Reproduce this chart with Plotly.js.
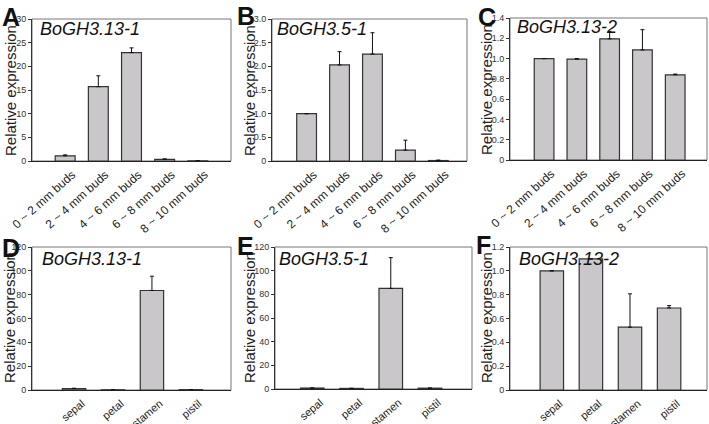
<!DOCTYPE html>
<html>
<head>
<meta charset="utf-8">
<script src="https://cdn.plot.ly/plotly-3.0.1.min.js"></script>
<style>html,body{margin:0;padding:0;background:#fff;}#chart{width:709px;height:424px;}</style>
</head>
<body>
<div id="chart"></div>
<script>
// ---- data ----
const budStages = ['0 ~ 2 mm buds', '2 ~ 4 mm buds', '4 ~ 6 mm buds', '6 ~ 8 mm buds', '8 ~ 10 mm buds'];
const organs = ['sepal', 'petal', 'stamen', 'pistil'];

const budsGH3_13_1 = [1.1, 15.7, 22.9, 0.35, 0.03];
const budsGH3_13_1Err = [0.2, 2.3, 1.0, 0.1, 0.02];
const budsGH3_5_1 = [1.0, 2.03, 2.26, 0.23, 0.01];
const budsGH3_5_1Err = [0.0, 0.28, 0.45, 0.21, 0.01];
const budsGH3_13_2 = [1.0, 0.995, 1.195, 1.085, 0.84];
const budsGH3_13_2Err = [0.0, 0.005, 0.07, 0.2, 0.007];

const organGH3_13_1 = [1.2, 0.2, 83.5, 0.3];
const organGH3_13_1Err = [0.3, 0.1, 12, 0.1];
const organGH3_5_1 = [0.8, 0.5, 85, 0.7];
const organGH3_5_1Err = [0.1, 0.1, 26, 0.1];
const organGH3_13_2 = [1.0, 1.1, 0.527, 0.688];
const organGH3_13_2Err = [0.0, 0.0, 0.28, 0.02];

const panelLetters = ['A', 'B', 'C', 'D', 'E', 'F'];
const geneNames = ['BoGH3.13-1', 'BoGH3.5-1', 'BoGH3.13-2', 'BoGH3.13-1', 'BoGH3.5-1', 'BoGH3.13-2'];
const yTitle = 'Relative expression';

const ticksA = [0, 5, 10, 15, 20, 25, 30];
const ticksB = [0, 0.5, 1.0, 1.5, 2.0, 2.5, 3.0];
const ticksBText = ['0', '0.5', '1.0', '1.5', '2.0', '2.5', '3.0'];
const ticksC = [0, 0.2, 0.4, 0.6, 0.8, 1.0, 1.2, 1.4];
const ticksCText = ['0', '0.2', '0.4', '0.6', '0.8', '1.0', '1.2', '1.4'];
const ticksDE = [0, 20, 40, 60, 80, 100, 120];
const ticksF = [0, 0.2, 0.4, 0.6, 0.8, 1.0, 1.2];
const ticksFText = ['0', '0.2', '0.4', '0.6', '0.8', '1.0', '1.2'];

// ---- layout geometry ----
const W = 709, H = 424;
const FONT = 'Liberation Sans, Arial, sans-serif';
const px = v => v / W;
const py = v => 1 - v / H;

const panels = [
  {cats: budStages, y: budsGH3_13_1, e: budsGH3_13_1Err, xd: [32, 231], yd: [19, 161], yr: [0, 30], tv: ticksA, tt: ticksA.map(String), xr: [-1.0, 5.0], ttl: [10, 91], let: [0, 1], gene: [38, 17], top: true},
  {cats: budStages, y: budsGH3_5_1, e: budsGH3_5_1Err, xd: [272, 467], yd: [19, 161], yr: [0, 3], tv: ticksB, tt: ticksBText, xr: [-1.05, 4.87], ttl: [249, 91], let: [235, 0], gene: [275, 17], top: true},
  {cats: budStages, y: budsGH3_13_2, e: budsGH3_13_2Err, xd: [510, 707], yd: [18, 160], yr: [0, 1.4], tv: ticksC, tt: ticksCText, xr: [-1.04, 4.97], ttl: [486, 90], let: [476, 1], gene: [515, 15], top: true},
  {cats: organs, y: organGH3_13_1, e: organGH3_13_1Err, xd: [32, 231], yd: [247, 390], yr: [0, 120], tv: ticksDE, tt: ticksDE.map(String), xr: [-1.08, 4.03], ttl: [9, 318], let: [0, 232], gene: [40, 247], top: false},
  {cats: organs, y: organGH3_5_1, e: organGH3_5_1Err, xd: [275, 472], yd: [247, 389], yr: [0, 120], tv: ticksDE, tt: ticksDE.map(String), xr: [-0.95, 4.07], ttl: [249, 318], let: [235, 230], gene: [277, 247], top: false},
  {cats: organs, y: organGH3_13_2, e: organGH3_13_2Err, xd: [510, 707], yd: [247, 390], yr: [0, 1.2], tv: ticksF, tt: ticksFText, xr: [-1.07, 3.97], ttl: [486, 318], let: [474, 229], gene: [517, 247], top: false}
];

const traces = [];
const layout = {
  width: W, height: H,
  margin: {l: 0, r: 0, t: 0, b: 0},
  paper_bgcolor: '#fff', plot_bgcolor: '#fff',
  showlegend: false,
  bargap: 0.4,
  font: {family: FONT, color: '#222'},
  annotations: [], shapes: []
};

panels.forEach((p, i) => {
  const n = i + 1;
  const xa = n === 1 ? 'x' : 'x' + n;
  const ya = n === 1 ? 'y' : 'y' + n;
  traces.push({
    type: 'bar', x: p.cats, y: p.y, xaxis: xa, yaxis: ya,
    width: 0.6,
    marker: {color: '#c9c7c9', line: {color: '#333', width: 1.2}},
    error_y: {type: 'data', symmetric: false, array: p.e, arrayminus: p.e.map(() => 0), color: '#111', thickness: 1, width: 2},
    hoverinfo: 'skip'
  });
  const xk = n === 1 ? 'xaxis' : 'xaxis' + n;
  const yk = n === 1 ? 'yaxis' : 'yaxis' + n;
  layout[xk] = {
    domain: [px(p.xd[0]), px(p.xd[1])], anchor: ya,
    type: 'category', range: p.xr,
    tickangle: p.top ? -42 : -40,
    ticklabelshift: p.top ? 7 : 8,
    ticklabelstandoff: p.top ? 1 : 2,
    showgrid: false, zeroline: false,
    showline: true, linecolor: '#222', linewidth: 1,
    ticks: '', tickfont: {size: p.top ? 12 : 11, color: '#222', family: FONT},
    fixedrange: true
  };
  layout[yk] = {
    domain: [py(p.yd[1]), py(p.yd[0])], anchor: xa,
    range: p.yr, tickvals: p.tv, ticktext: p.tt,
    showgrid: false, zeroline: false,
    showline: true, linecolor: '#333', linewidth: 1,
    ticks: 'outside', ticklen: 3, tickcolor: '#333',
    tickfont: {size: 9, color: '#333', family: FONT},
    fixedrange: true
  };
  layout.shapes.push({type: 'rect', xref: xa + ' domain', yref: ya + ' domain', x0: 0, x1: 1, y0: 0, y1: 1, line: {color: '#777', width: 1}, layer: 'below'});
  layout.annotations.push({
    text: yTitle, textangle: -90, xref: 'paper', yref: 'paper',
    x: px(p.ttl[0]), y: py(p.ttl[1]), xanchor: 'center', yanchor: 'middle',
    showarrow: false, font: {size: 15, color: '#222', family: FONT}
  });
  layout.annotations.push({
    text: '<b>' + panelLetters[i] + '</b>', xref: 'paper', yref: 'paper',
    x: px(p.let[0]), y: py(p.let[1]), xanchor: 'left', yanchor: 'top',
    showarrow: false, font: {size: 25, color: '#111', family: FONT}
  });
  layout.annotations.push({
    text: '<i>' + geneNames[i] + '</i>', xref: 'paper', yref: 'paper',
    x: px(p.gene[0]), y: py(p.gene[1]), xanchor: 'left', yanchor: 'top',
    showarrow: false, font: {size: 18, color: '#111', family: FONT}
  });
});

Plotly.newPlot('chart', traces, layout, {staticPlot: true, displayModeBar: false});
</script>
</body>
</html>
